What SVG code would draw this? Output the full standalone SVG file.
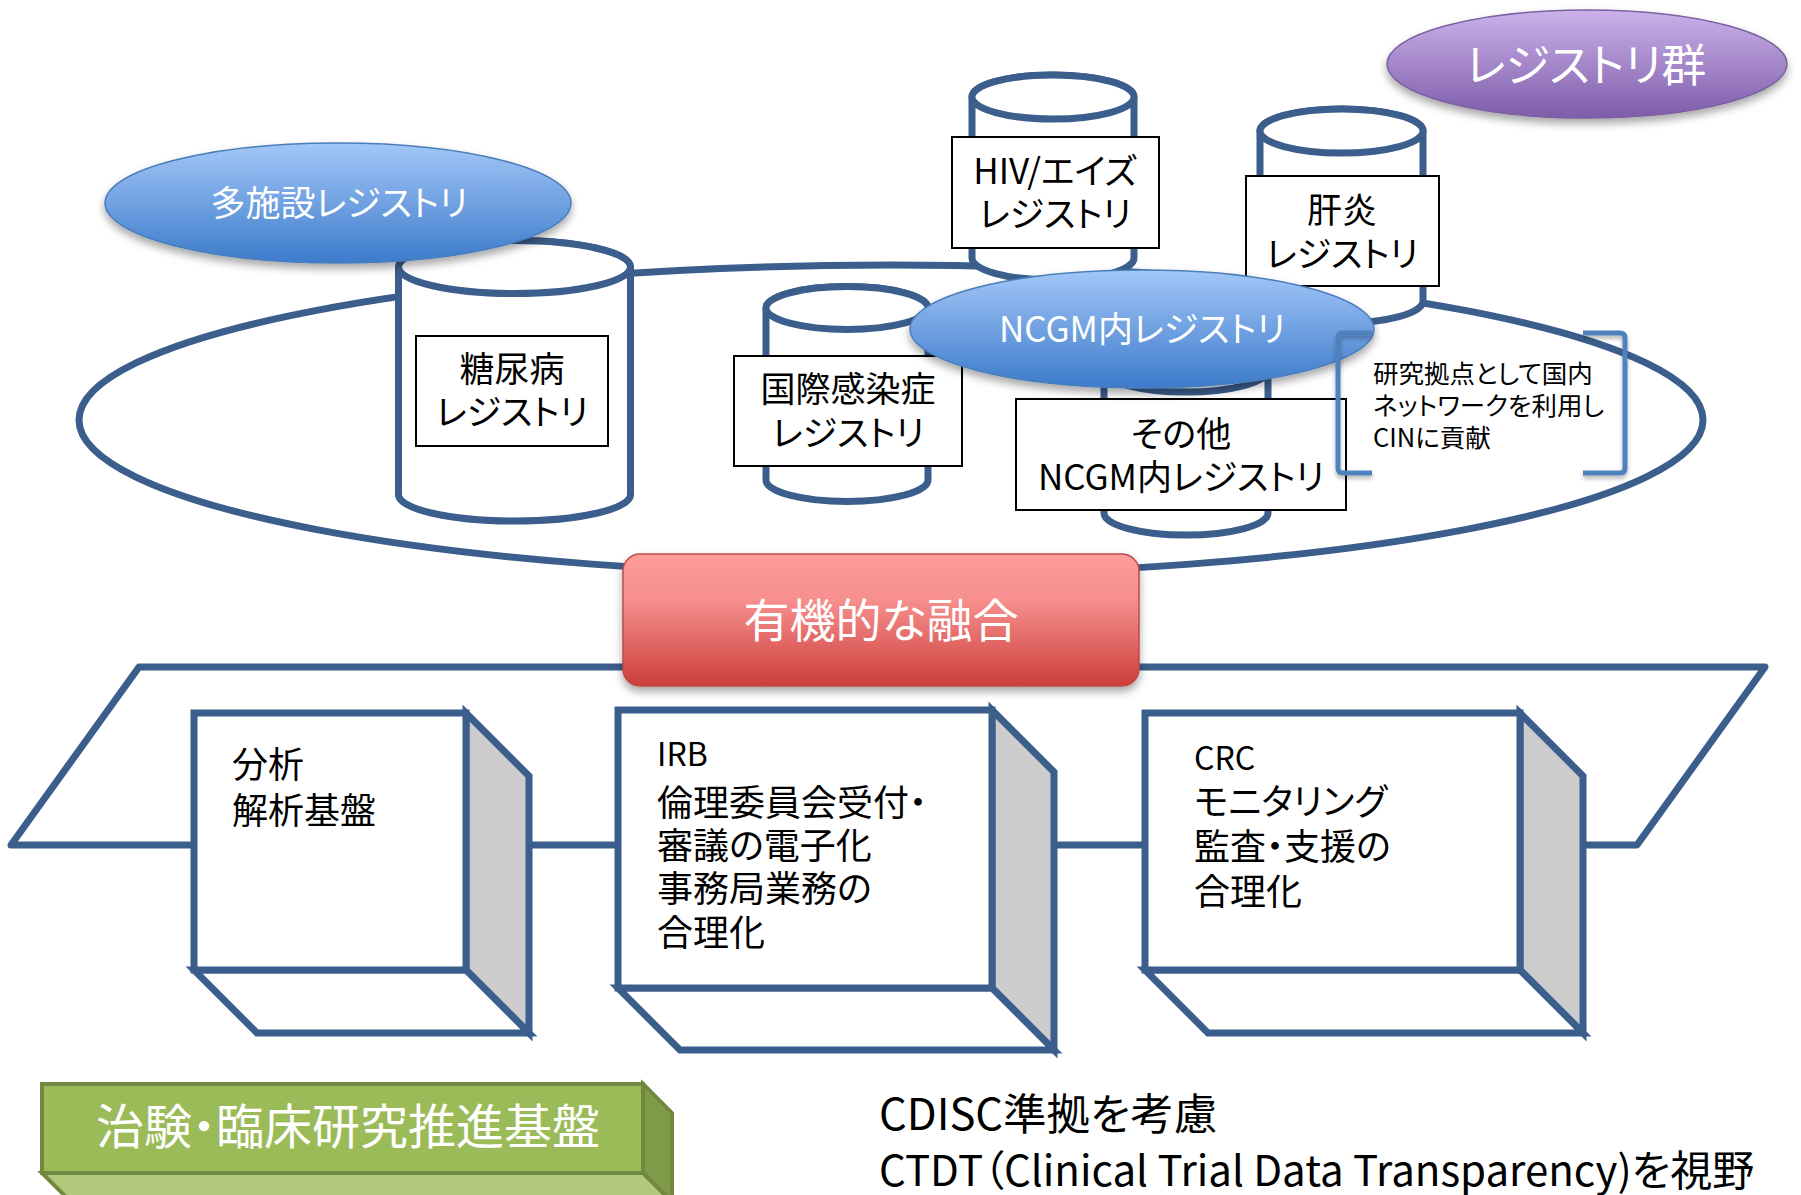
<svg xmlns="http://www.w3.org/2000/svg" width="1801" height="1195" viewBox="0 0 1801 1195">
<defs>
  <linearGradient id="gBlue" x1="0" y1="0" x2="0" y2="1">
    <stop offset="0" stop-color="#A3C7F8"/>
    <stop offset="1" stop-color="#3D7BCB"/>
  </linearGradient>
  <linearGradient id="gPurple" x1="0" y1="0" x2="0" y2="1">
    <stop offset="0" stop-color="#CBB2EA"/>
    <stop offset="1" stop-color="#7E5CA9"/>
  </linearGradient>
  <linearGradient id="gRed" x1="0" y1="0" x2="0" y2="1">
    <stop offset="0" stop-color="#FF9C9A"/>
    <stop offset="0.35" stop-color="#F68F8D"/>
    <stop offset="1" stop-color="#CC3E3B"/>
  </linearGradient>
  <filter id="sh" x="-20%" y="-30%" width="140%" height="170%">
    <feDropShadow dx="0" dy="5" stdDeviation="4" flood-color="#000" flood-opacity="0.35"/>
  </filter>
  <filter id="shs" x="-20%" y="-20%" width="140%" height="140%">
    <feDropShadow dx="0" dy="3" stdDeviation="2" flood-color="#000" flood-opacity="0.3"/>
  </filter>
</defs>
<style>
  .ln{fill:none;stroke:#3B5E8C;stroke-width:7}
  .cyl{fill:#fff;stroke:#3B5E8C;stroke-width:7}
  .box{fill:#fff;stroke:#3B5E8C;stroke-width:7;stroke-linejoin:miter}
  .side{fill:#CCCCCC;stroke:#3B5E8C;stroke-width:7;stroke-linejoin:miter}
  .lbl{fill:#fff;stroke:#000;stroke-width:2}
  .t{font-family:"Noto Sans CJK JP","Noto Sans",sans-serif;font-feature-settings:"palt";fill:#000}
  .w{fill:#fff}
  .c{text-anchor:middle}
  .f35{font-size:35px}
  .f36{font-size:36px}
  .note{font-size:25.5px}
  .brk{fill:none;stroke:#4F81BD;stroke-width:5}
</style>

<g id="frames">
  <ellipse id="registry-ring" class="ln" cx="891" cy="420" rx="812" ry="155"/>
  <polygon id="platform-band" class="ln" style="stroke-linejoin:round" points="139,667 1765,667 1637,845 11,845"/>
</g>

<g id="connectors"></g>

<g id="cyl-diabetes">
  <path class="cyl" d="M398.5,267 V494.5 A116,26.5 0 0 0 630.5,494.5 V267 A116,26.5 0 0 0 398.5,267 Z"/>
  <ellipse class="cyl" cx="514.5" cy="267" rx="116" ry="26.5"/>
  <rect class="lbl" x="416" y="336" width="192" height="110"/>
  <text class="t c f35" x="512" y="382">糖尿病</text>
  <text class="t c f35" x="512" y="425">レジストリ</text>
</g>

<g id="cyl-infection">
  <path class="cyl" d="M766,308 V480 A81,21.5 0 0 0 928,480 V308 A81,21.5 0 0 0 766,308 Z"/>
  <ellipse class="cyl" cx="847" cy="308" rx="81" ry="21.5"/>
  <rect class="lbl" x="734" y="356" width="228" height="110"/>
  <text class="t c f35" x="848" y="402">国際感染症</text>
  <text class="t c f35" x="848" y="446">レジストリ</text>
</g>

<g id="cyl-hiv">
  <path class="cyl" d="M972,97 V258 A81,22 0 0 0 1134,258 V97 A81,22 0 0 0 972,97 Z"/>
  <ellipse class="cyl" cx="1053" cy="97" rx="81" ry="22"/>
  <rect class="lbl" x="952" y="137" width="207" height="111"/>
  <text class="t c f35" x="1055" y="184">HIV/エイズ</text>
  <text class="t c f35" x="1055" y="227">レジストリ</text>
</g>

<g id="cyl-hepatitis">
  <path class="cyl" d="M1260,131 V301 A81.5,22 0 0 0 1423,301 V131 A81.5,22 0 0 0 1260,131 Z"/>
  <ellipse class="cyl" cx="1341.5" cy="131" rx="81.5" ry="22"/>
  <rect class="lbl" x="1246" y="176" width="193" height="110"/>
  <text class="t c f35" x="1342" y="223">肝炎</text>
  <text class="t c f35" x="1342" y="267">レジストリ</text>
</g>

<g id="cyl-other">
  <path class="cyl" d="M1104,370 V513 A82,22 0 0 0 1268,513 V370 A82,22 0 0 0 1104,370 Z"/>
  <ellipse class="cyl" cx="1186" cy="370" rx="82" ry="22"/>
  <rect class="lbl" x="1016" y="399" width="330" height="111"/>
  <text class="t c f35" x="1181" y="447">その他</text>
  <text class="t c f35" x="1181" y="490">NCGM内レジストリ</text>
</g>

<g id="multi-site">
  <ellipse cx="338" cy="203" rx="233" ry="60" fill="url(#gBlue)" stroke="#4A7EBB" stroke-width="1.5" filter="url(#sh)"/>
  <text class="t c w f35" x="339" y="216">多施設レジストリ</text>
</g>

<g id="ncgm">
  <ellipse cx="1142" cy="329" rx="232" ry="59" fill="url(#gBlue)" stroke="#4A7EBB" stroke-width="1.5" filter="url(#sh)"/>
  <text class="t c w f35" x="1142" y="342">NCGM内レジストリ</text>
</g>

<g id="note-cin">
  <g filter="url(#shs)">
    <path class="brk" d="M1372,333 H1343 Q1338,333 1338,338 V468 Q1338,473 1343,473 H1372"/>
    <path class="brk" d="M1583,333 H1620 Q1625,333 1625,338 V468 Q1625,473 1620,473 H1583"/>
  </g>
  <text class="t note" x="1373" y="383">研究拠点として国内</text>
  <text class="t note" x="1373" y="415">ネットワークを利用し</text>
  <text class="t note" x="1373" y="447">CINに貢献</text>
</g>

<g id="registry-group">
  <ellipse cx="1587" cy="64" rx="200" ry="54" fill="url(#gPurple)" stroke="#7D60A0" stroke-width="1.5" filter="url(#sh)"/>
  <text class="t c w" style="font-size:45px" x="1586" y="82">レジストリ群</text>
</g>

<g id="fusion">
  <rect x="623" y="554" width="516" height="132" rx="17" fill="url(#gRed)" stroke="#BE4B48" stroke-width="1.5" filter="url(#sh)"/>
  <text class="t c w" style="font-size:46px" x="881" y="637">有機的な融合</text>
</g>

<g id="box-analysis">
  <polygon class="side" points="466,713 529,776 529,1033 466,970"/>
  <polygon class="box" points="194,970 466,970 529,1033 257,1033"/>
  <rect class="box" x="194" y="713" width="272" height="257"/>
  <text class="t f36" x="232" y="778">分析</text>
  <text class="t f36" x="232" y="824">解析基盤</text>
</g>

<g id="box-irb">
  <polygon class="side" points="992,710 1054,772 1054,1050 992,988"/>
  <polygon class="box" points="618,988 992,988 1054,1050 680,1050"/>
  <rect class="box" x="618" y="710" width="374" height="278"/>
  <text class="t" style="font-size:32px" x="657" y="766">IRB</text>
  <text class="t f36" x="657" y="816">倫理委員会受付・</text>
  <text class="t f36" x="657" y="859">審議の電子化</text>
  <text class="t f36" x="657" y="902">事務局業務の</text>
  <text class="t f36" x="657" y="946">合理化</text>
</g>

<g id="box-crc">
  <polygon class="side" points="1520,713 1583,776 1583,1033 1520,970"/>
  <polygon class="box" points="1145,970 1520,970 1583,1033 1208,1033"/>
  <rect class="box" x="1145" y="713" width="375" height="257"/>
  <text class="t" style="font-size:32px" x="1194" y="770">CRC</text>
  <text class="t f36" x="1194" y="815">モニタリング</text>
  <text class="t f36" x="1194" y="860">監査・支援の</text>
  <text class="t f36" x="1194" y="905">合理化</text>
</g>

<g id="platform-title">
  <polygon points="643,1084 672,1113 672,1202 643,1173" fill="#7F9A48" stroke="#71893F" stroke-width="4"/>
  <polygon points="42,1173 643,1173 672,1202 71,1202" fill="#B0C97A" stroke="#71893F" stroke-width="4"/>
  <rect x="42" y="1084" width="601" height="89" fill="#9BBB59" stroke="#71893F" stroke-width="4"/>
  <text class="t c w" style="font-size:48px" x="348" y="1144">治験・臨床研究推進基盤</text>
</g>

<g id="notes">
  <text class="t" style="font-size:43.5px" x="879" y="1130">CDISC準拠を考慮</text>
  <text class="t" style="font-size:42px" x="879" y="1186">CTDT（Clinical Trial Data Transparency)を視野</text>
</g>
</svg>
